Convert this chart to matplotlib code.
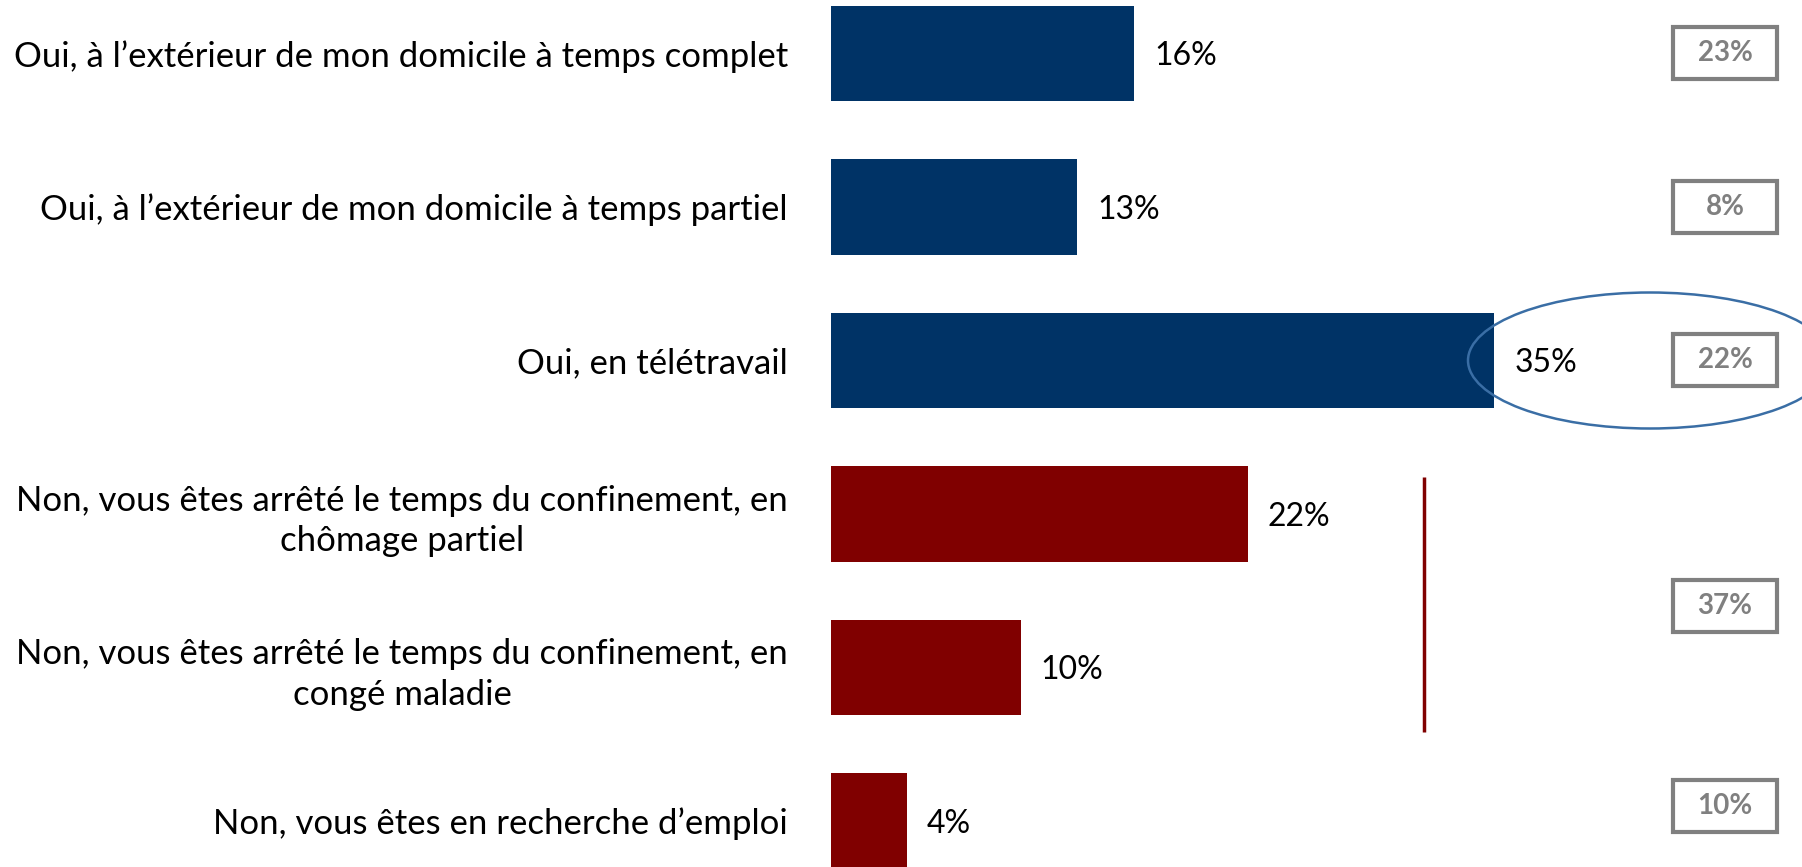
import matplotlib
matplotlib.use("Agg")
import matplotlib.pyplot as plt
from matplotlib.patches import Rectangle, Ellipse
import matplotlib.transforms as mtransforms

categories = [
    "Oui, à l’extérieur de mon domicile à temps complet",
    "Oui, à l’extérieur de mon domicile à temps partiel",
    "Oui, en télétravail",
    "Non, vous êtes arrêté le temps du confinement, en\nchômage partiel",
    "Non, vous êtes arrêté le temps du confinement, en\ncongé maladie",
    "Non, vous êtes en recherche d’emploi",
]
values = [16, 13, 35, 22, 10, 4]
groups = ["oui", "oui", "oui", "non", "non", "non"]
compare_labels = ["23%", "8%", "22%", "37%", "10%"]
compare_pos = [0, 1, 2, 3.6, 4.9]

colors = {"oui": "#003366", "non": "#800000"}
plt.rcParams['font.family'] = ['Lato', 'DejaVu Sans']

W, H = 1802, 867
fig = plt.figure(figsize=(W / 100, H / 100), dpi=100)
left_px = 831
ax = fig.add_axes([left_px / W, 0, 1 - left_px / W, 1])
px_per_unit_x = 18.95
pitch = 153.5
c0 = 53.5
ax.set_xlim(0, (W - left_px) / px_per_unit_x)
ax.set_ylim((H - c0) / pitch, -c0 / pitch)

y = list(range(len(values)))
ax.barh(y, values, height=0.62, color=[colors[g] for g in groups], edgecolor='none')
shift = mtransforms.offset_copy(ax.transData, fig=fig, x=0, y=-3, units='dots')
for yi, v in zip(y, values):
    ax.text(v + 20 / px_per_unit_x, yi, f"{v}%", va='center', ha='left', fontsize=23,
            color='black', transform=shift)

ax.set_yticks(y)
ax.set_yticklabels(categories, fontsize=25, multialignment='center', linespacing=1.32)
ax.tick_params(axis='y', length=0, pad=31)
ax.set_xticks([])
for s in ax.spines.values():
    s.set_visible(False)

# comparison boxes
bw = 104 / px_per_unit_x
bh = 52 / pitch
bx = (1725 - left_px) / px_per_unit_x
for lab, p in zip(compare_labels, compare_pos):
    ax.add_patch(Rectangle((bx - bw / 2, p - bh / 2), bw, bh, fill=False,
                           edgecolor='#808080', linewidth=3))
    ax.text(bx, p, lab, ha='center', va='center', fontsize=20, fontweight='bold', color='#808080')

# ellipse highlight
ax.add_patch(Ellipse(((1650 - left_px) / px_per_unit_x, 2.0), 364 / px_per_unit_x, 136 / pitch,
                     fill=False, edgecolor='#3A6EA5', linewidth=1.8))

# vertical bracket line
ax.plot([(1424 - left_px) / px_per_unit_x] * 2, [2.76, 4.42], color='#800000', linewidth=2.5,
        solid_capstyle='butt')

fig.savefig("out.png", dpi=100)
